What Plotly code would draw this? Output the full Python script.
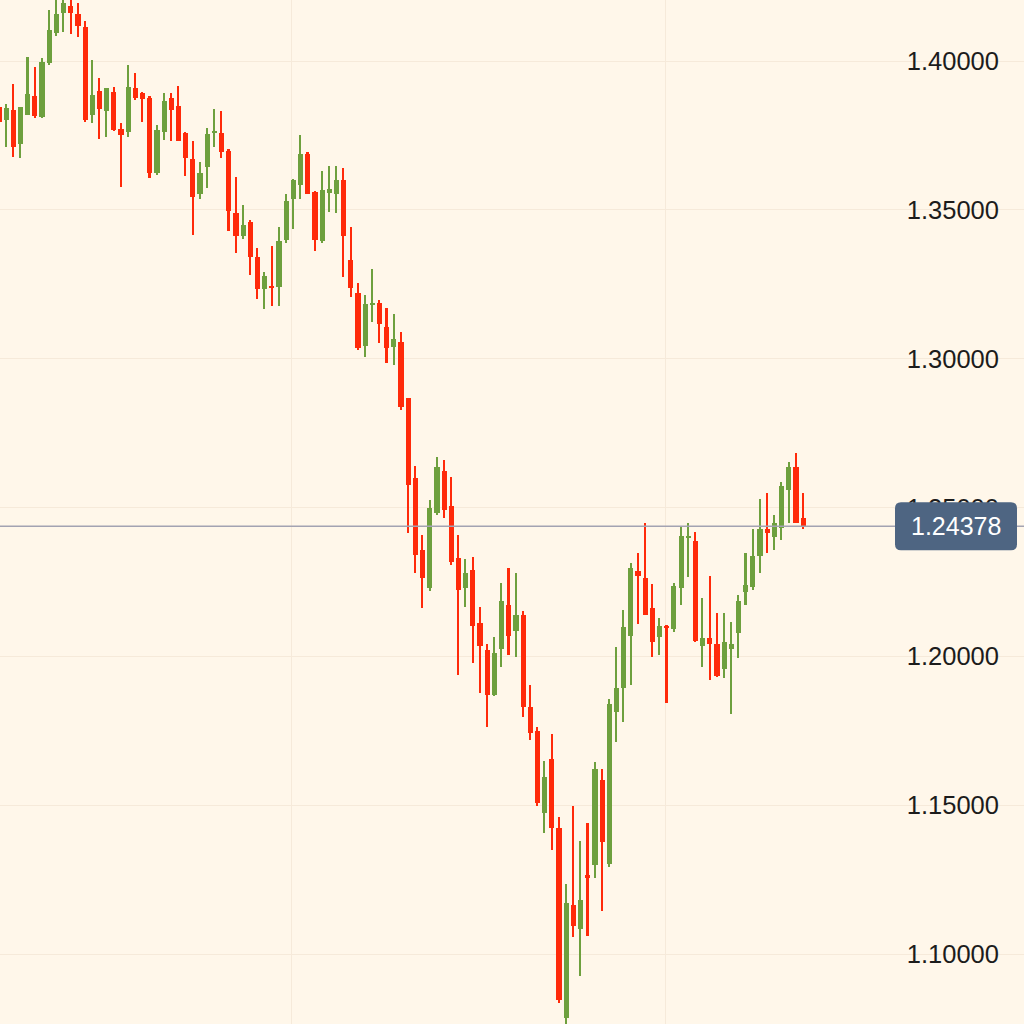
import pandas as pd
import plotly.graph_objects as go

# Weekly candles (GBP/USD style)
start_date = "2021-03-22"
opens = [1.3845,1.3802,1.3835,1.3721,1.3819,1.3882,1.3812,1.3993,1.4094,1.4161,
         1.4185,1.4158,1.4114,1.3819,1.3899,1.3832,1.3896,1.3772,1.3762,1.3909,
         1.3893,1.3876,1.3624,1.3762,1.3876,1.3849,1.3758,1.3671,1.3553,1.3644,
         1.3758,1.3758,1.3698,1.3489,1.3412,1.3459,1.3341,1.3234,1.3244,1.3241,
         1.3399,1.3536,1.3583,1.3688,1.3560,1.3395,1.3557,1.3553,1.3600,1.3331,
         1.3220,1.3042,1.3180,1.3187,1.3106,1.3039,1.3056,1.2868,1.2599,1.2357,
         1.2229,1.2481,1.2622,1.2505,1.2330,1.2229,1.2290,1.2112,1.2021,1.1870,
         1.2024,1.2172,1.2085,1.2139,1.1829,1.1749,1.1473,1.1655,1.1423,1.0785,
         1.1164,1.1084,1.1268,1.1299,1.1584,1.1305,1.1813,1.1893,1.2068,1.2286,
         1.2263,1.2162,1.2065,1.2102,1.2092,1.2229,1.2397,1.2387,1.2034,1.2061,
         1.2041,1.1957,1.2024,1.2078,1.2216,1.2233,1.2337,1.2428,1.2401,1.2431,
         1.2559,1.2636,1.2465]
highs = [1.3852,1.3856,1.3923,1.3845,1.4013,1.3980,1.4010,1.4171,1.4232,1.4240,
         1.4235,1.4195,1.4134,1.4003,1.3943,1.3909,1.3913,1.3792,1.3987,1.3960,
         1.3896,1.3882,1.3785,1.3893,1.3893,1.3916,1.3762,1.3731,1.3661,1.3775,
         1.3839,1.3832,1.3704,1.3610,1.3516,1.3466,1.3372,1.3291,1.3378,1.3442,
         1.3553,1.3604,1.3751,1.3694,1.3563,1.3630,1.3647,1.3647,1.3640,1.3442,
         1.3254,1.3214,1.3301,1.3197,1.3170,1.3150,1.3090,1.2868,1.2639,1.2407,
         1.2525,1.2669,1.2659,1.2602,1.2407,1.2327,1.2334,1.2166,1.2041,1.2065,
         1.2246,1.2297,1.2280,1.2152,1.1903,1.1762,1.1648,1.1739,1.1460,1.1235,
         1.1497,1.1379,1.1440,1.1645,1.1621,1.1856,1.2031,1.2155,1.2313,1.2347,
         1.2448,1.2243,1.2129,1.2105,1.2246,1.2438,1.2448,1.2417,1.2196,1.2270,
         1.2145,1.2145,1.2115,1.2206,1.2347,1.2428,1.2529,1.2549,1.2475,1.2585,
         1.2653,1.2683,1.2549]
lows = [1.3785,1.3711,1.3678,1.3674,1.3819,1.3809,1.3809,1.3987,1.4084,1.4097,
        1.4091,1.4081,1.3795,1.3792,1.3738,1.3745,1.3765,1.3577,1.3745,1.3869,
        1.3795,1.3607,1.3617,1.3735,1.3731,1.3731,1.3614,1.3415,1.3536,1.3573,
        1.3711,1.3674,1.3429,1.3355,1.3402,1.3281,1.3200,1.3167,1.3177,1.3177,
        1.3389,1.3436,1.3536,1.3553,1.3362,1.3389,1.3493,1.3489,1.3274,1.3207,
        1.3029,1.3005,1.3123,1.3052,1.2985,1.2979,1.2827,1.2414,1.2280,1.2162,
        1.2219,1.2475,1.2465,1.2307,1.1937,1.2166,1.1977,1.1876,1.1762,1.1866,
        1.1964,1.2004,1.1998,1.1796,1.1719,1.1497,1.1406,1.1352,1.0838,1.0350,
        1.1057,1.0926,1.1060,1.1258,1.1147,1.1292,1.1712,1.1779,1.1903,1.2108,
        1.2139,1.1997,1.2004,1.1843,1.2081,1.2172,1.2266,1.2048,1.1964,1.1920,
        1.1930,1.1927,1.1806,1.1994,1.2172,1.2223,1.2280,1.2347,1.2357,1.2391,
        1.2448,1.2448,1.2428]
closes = [1.3795,1.3842,1.3711,1.3845,1.3889,1.3815,1.3997,1.4104,1.4158,1.4195,
          1.4161,1.4118,1.3802,1.3886,1.3839,1.3909,1.3768,1.3751,1.3913,1.3876,
          1.3872,1.3624,1.3768,1.3866,1.3835,1.3731,1.3674,1.3543,1.3624,1.3755,
          1.3765,1.3694,1.3496,1.3412,1.3449,1.3341,1.3234,1.3278,1.3241,1.3395,
          1.3530,1.3600,1.3688,1.3553,1.3399,1.3567,1.3570,1.3600,1.3412,1.3237,
          1.3036,1.3184,1.3187,1.3116,1.3036,1.3066,1.2837,1.2575,1.2340,1.2263,
          1.2498,1.2636,1.2491,1.2317,1.2223,1.2280,1.2102,1.2034,1.1870,1.2011,
          1.2186,1.2068,1.2139,1.1829,1.1742,1.1507,1.1594,1.1423,1.0845,1.1171,
          1.1094,1.1184,1.1258,1.1621,1.1376,1.1840,1.1893,1.2098,1.2297,1.2270,
          1.2139,1.2048,1.2102,1.2095,1.2236,1.2404,1.2404,1.2051,1.2061,1.2041,
          1.1934,1.2048,1.2041,1.2186,1.2239,1.2337,1.2428,1.2414,1.2448,1.2572,
          1.2636,1.2448,1.24378]
last_price = 1.24378
y_ticks = [1.10, 1.15, 1.20, 1.25, 1.30, 1.35, 1.40]
year_lines = ["2022-01-01", "2023-01-01"]

UP = "#6EA03E"
DOWN = "#FF2A0A"
BG = "#FFF7EA"
GRID = "#F6EADA"

dates = pd.date_range(start_date, periods=len(opens), freq="7D")
colors = [UP if c >= o else DOWN for o, c in zip(opens, closes)]
week_ms = 7 * 24 * 3600 * 1000
min_body = 0.0006
body_base = [min(o, c) for o, c in zip(opens, closes)]
body_h = [max(abs(c - o), min_body) for o, c in zip(opens, closes)]
body_base = [b - (h - abs(c - o)) / 2 for b, h, o, c in zip(body_base, body_h, opens, closes)]
wick_h = [h - l for h, l in zip(highs, lows)]

fig = go.Figure()
fig.add_trace(go.Bar(x=dates, y=wick_h, base=lows, width=0.22 * week_ms,
                     marker=dict(color=colors, line=dict(width=0)), hoverinfo="skip"))
fig.add_trace(go.Bar(x=dates, y=body_h, base=body_base, width=0.72 * week_ms,
                     marker=dict(color=colors, line=dict(width=0)), hoverinfo="skip"))

x0 = dates[0] + pd.Timedelta(weeks=0.14)
x1 = dates[0] + pd.Timedelta(weeks=142.76)

fig.update_layout(
    width=1024, height=1024,
    margin=dict(l=0, r=0, t=0, b=0, pad=0, autoexpand=False),
    paper_bgcolor=BG, plot_bgcolor=BG,
    barmode="overlay", bargap=0, showlegend=False,
    xaxis=dict(range=[x0, x1], type="date", tickvals=year_lines, showticklabels=False,
               showgrid=True, gridcolor=GRID, gridwidth=1, zeroline=False, showline=False, ticks=""),
    yaxis=dict(range=[1.0766, 1.4205], side="right", tickvals=y_ticks, tickformat=".5f",
               ticklabelposition="inside", ticks="", ticklabelstandoff=22,
               showgrid=True, gridcolor=GRID, gridwidth=1, zeroline=False, showline=False,
               tickfont=dict(family="Liberation Sans, Arial, sans-serif", size=25.5, color="#1c1c1c")),
)

# last price line
fig.add_shape(type="line", xref="paper", x0=0, x1=1, yref="y", y0=last_price, y1=last_price,
              line=dict(color="#A3A3B2", width=1.5), layer="above")

# rounded label box
bx0, bx1, by0, by1, r = -129, -7, -24, 24, 6
path = (f"M {bx0+r},{by0} L {bx1-r},{by0} Q {bx1},{by0} {bx1},{by0+r} "
        f"L {bx1},{by1-r} Q {bx1},{by1} {bx1-r},{by1} L {bx0+r},{by1} "
        f"Q {bx0},{by1} {bx0},{by1-r} L {bx0},{by0+r} Q {bx0},{by0} {bx0+r},{by0} Z")
fig.add_shape(type="path", xref="paper", xsizemode="pixel", xanchor=1,
              yref="y", ysizemode="pixel", yanchor=last_price, path=path,
              fillcolor="#4E6582", line=dict(width=0), layer="above")
fig.add_annotation(xref="paper", x=1, xanchor="center", xshift=-68, yref="y", y=last_price,
                   yanchor="middle", text=f"{last_price:.5f}", showarrow=False,
                   font=dict(family="Liberation Sans, Arial, sans-serif", size=25, color="white"))

fig.write_html("out.html", config={"displayModeBar": False},
               post_script="document.body.style.margin='0';document.body.style.background='" + BG + "';")
